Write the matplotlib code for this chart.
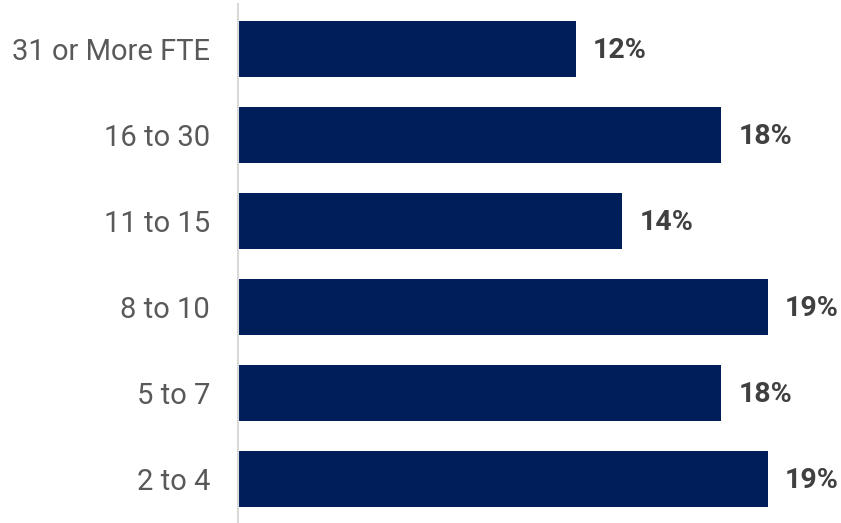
import matplotlib
matplotlib.use("Agg")
import matplotlib.pyplot as plt

categories = ["31 or More FTE", "16 to 30", "11 to 15", "8 to 10", "5 to 7", "2 to 4"]
values = [12.3, 17.6, 14.0, 19.3, 17.6, 19.3]

plt.rcParams["font.family"] = ["Roboto", "DejaVu Sans"]

W, H = 841, 523
fig = plt.figure(figsize=(W / 100, H / 100), dpi=100)
left, right = 238, 768
top_px, bottom_px = 6, 522  # from top edge
ax = fig.add_axes([left / W, (H - bottom_px) / H, (right - left) / W,
                   (bottom_px - top_px) / H])

y = list(range(len(categories)))
ax.barh(y, values, height=0.66, color="#001f5a")
ax.set_xlim(0, 19.3)
ax.set_ylim(len(categories) - 0.5, -0.5)

ax.set_yticks(y)
ax.set_yticklabels(categories, fontsize=21, color="#595959")
ax.tick_params(axis="y", length=0, pad=20)
ax.set_xticks([])

for s in ["top", "right", "bottom"]:
    ax.spines[s].set_visible(False)
ax.spines["left"].set_color("#d9d9d9")
ax.spines["left"].set_linewidth(1.5)
ax.spines["left"].set_bounds(len(categories) - 0.5 + 0.02, -0.52)

for yi, v in zip(y, values):
    ax.annotate(f"{v:.0f}%", (v, yi), xytext=(17, -2), textcoords="offset pixels",
                va="center", ha="left", fontsize=20.5, fontweight="bold",
                color="#404040", annotation_clip=False)

fig.savefig("out.png", dpi=100)
